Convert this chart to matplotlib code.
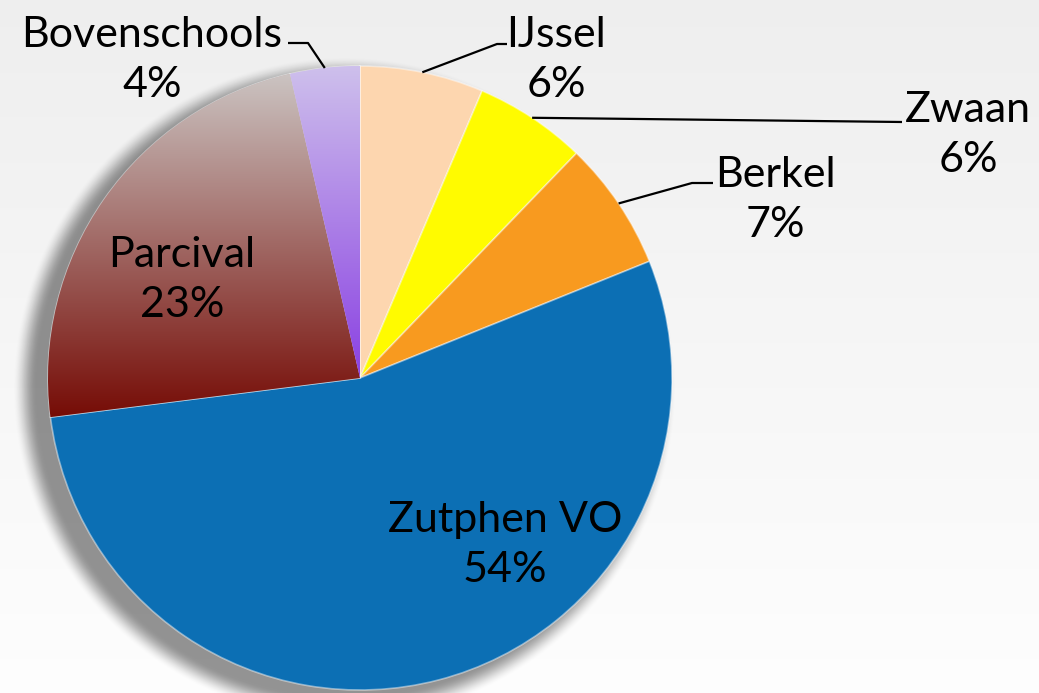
import matplotlib
matplotlib.use('Agg')
import matplotlib.pyplot as plt
import numpy as np
from matplotlib.colors import to_rgb

plt.rcParams['font.family'] = ['Lato', 'DejaVu Sans']

# ---- data ----
schools = ['IJssel', 'Zwaan', 'Berkel', 'Zutphen VO', 'Parcival', 'Bovenschools']
shares = [6.4, 5.8, 6.7, 54.1, 23.4, 3.6]

# ---- styles ----
slice_colors = ['#FDD6AF', '#FFFB00', '#F89A1F', '#0C6FB4', '#A07070', '#B89CE6']
gradients = {'Parcival': ('#CBC4C2', '#760C06'),
             'Bovenschools': ('#CEC0EC', '#8A40E2')}

W, H = 1039, 693
CX, CY, R = 360, 378, 312      # pie centre / radius in pixels (y from top)
FS = 31


def py(y):
    return H - y


# text centre (x, y) and leader elbow / end points (pixels, y from top)
label_layout = {
    'IJssel':       ((556, 60), [(497, 44), (507, 44)]),
    'Zwaan':        ((968, 135), [(902, 122)]),
    'Berkel':       ((775, 200), [(692, 183), (713, 183)]),
    'Zutphen VO':   ((505, 545), None),
    'Parcival':     ((182, 280), None),
    'Bovenschools': ((152, 60), [(308, 43), (288, 43)]),
}

fig = plt.figure(figsize=(W / 100, H / 100), dpi=100)
ax = fig.add_axes([0, 0, 1, 1])

# background gradient
bg = np.linspace(0.935, 0.995, 256)[:, None, None] * np.ones((1, 1, 3))
ax.imshow(bg, extent=(0, W, 0, H), origin='upper', aspect='auto', zorder=0)

# soft drop shadow
yy, xx = np.mgrid[0:H, 0:W]
d = np.hypot(xx - (CX - 16), yy - (CY + 10))
t = np.clip((R + 8 - d) / 24 + 0.5, 0, 1)
t = t * t * (3 - 2 * t)
shadow = np.zeros((H, W, 4))
shadow[..., 3] = 0.42 * t
ax.imshow(shadow, extent=(0, W, 0, H), origin='upper', aspect='auto', zorder=1)

wedges, _ = ax.pie(shares, colors=slice_colors, startangle=90, counterclock=False,
                   center=(CX, py(CY)), radius=R, frame=True,
                   wedgeprops=dict(edgecolor=(1, 1, 1, 0.45), linewidth=1.2, zorder=2))

# vertical gradients on two slices
for w, name in zip(wedges, schools):
    if name not in gradients:
        continue
    th = np.radians(np.linspace(w.theta1, w.theta2, 100))
    ys = np.concatenate([[py(CY)], py(CY) + R * np.sin(th)])
    xs = np.concatenate([[CX], CX + R * np.cos(th)])
    c_top, c_bot = (np.array(to_rgb(c)) for c in gradients[name])
    f = np.linspace(0, 1, 256)[:, None]
    img = (c_top * (1 - f) + c_bot * f)[:, None, :]
    im = ax.imshow(img, extent=(xs.min(), xs.max(), ys.min(), ys.max()),
                   origin='upper', aspect='auto', zorder=2.5)
    im.set_clip_path(w)

# labels and leader lines
for w, name, v in zip(wedges, schools, shares):
    (tx, ty), leader = label_layout[name]
    ax.text(tx, py(ty), f"{name}\n{round(v)}%", ha='center', va='center',
            fontsize=FS, linespacing=1.38, color='black', zorder=5)
    if leader:
        mid = np.radians((w.theta1 + w.theta2) / 2)
        px = [CX + R * np.cos(mid)] + [p[0] for p in leader]
        pyv = [py(CY) + R * np.sin(mid)] + [py(p[1]) for p in leader]
        ax.plot(px, pyv, color='black', lw=1.6, zorder=4, solid_capstyle='butt')

ax.set_xlim(0, W)
ax.set_ylim(0, H)
ax.set_aspect('equal')
ax.axis('off')

fig.savefig('out.png', dpi=100)
